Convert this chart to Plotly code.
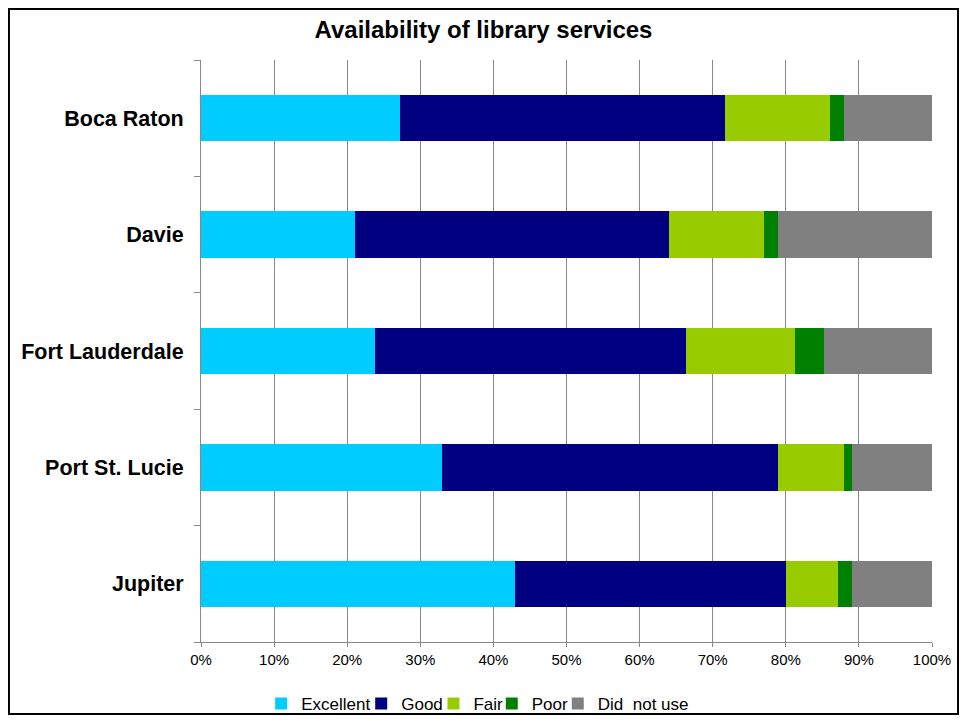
import plotly.graph_objects as go

cities = ["Boca Raton", "Davie", "Fort Lauderdale", "Port St. Lucie", "Jupiter"]
excellent = [27.2, 21.0, 23.8, 33.0, 43.0]
good = [44.5, 43.0, 42.5, 45.9, 37.0]
fair = [14.3, 13.0, 14.9, 9.1, 7.1]
poor = [1.9, 1.9, 4.0, 1.0, 1.9]
did_not_use = [12.1, 21.1, 14.8, 11.0, 11.0]

series = [
    ("Excellent", excellent, "#00CCFF"),
    ("Good", good, "#000080"),
    ("Fair", fair, "#99CC00"),
    ("Poor", poor, "#008000"),
    ("Did  not use", did_not_use, "#808080"),
]
# left edge of each legend entry (fraction of figure width)
legend_x = [0.2662, 0.3714, 0.4474, 0.5087, 0.5781]

font = "Arial, Liberation Sans, sans-serif"

fig = go.Figure()
legends = {}
for i, (name, vals, color) in enumerate(series):
    key = "legend" if i == 0 else "legend%d" % (i + 1)
    fig.add_trace(go.Bar(
        y=cities, x=[v / 100 for v in vals], name=name, orientation="h",
        marker=dict(color=color, line=dict(width=0)), legend=key,
    ))
    legends[key] = dict(orientation="h", xref="container", yref="container",
                        x=legend_x[i], xanchor="left", y=0.0156, yanchor="middle",
                        font=dict(size=17), itemwidth=30, bgcolor="rgba(0,0,0,0)")

fig.update_layout(
    barmode="stack",
    bargap=0.6,
    width=951, height=707,
    margin=dict(l=193, r=27, t=52, b=73),
    paper_bgcolor="white", plot_bgcolor="white",
    font=dict(family=font, color="black"),
    title=dict(text="<b>Availability of library services</b>", x=0.5, xanchor="center",
               y=0.9689, yanchor="middle", font=dict(size=24, family=font)),
    showlegend=True,
    **legends,
)
fig.update_xaxes(
    range=[0, 1], tickformat=".0%", dtick=0.1, showgrid=True, gridcolor="#888888",
    gridwidth=1, showline=True, linecolor="#888888", ticks="outside", ticklen=4,
    tickcolor="#888888", tickfont=dict(size=15), zeroline=False, automargin=False,
)
fig.update_yaxes(
    autorange="reversed", showline=True, linecolor="#888888", ticks="outside",
    tickson="boundaries", ticklen=6, tickcolor="#888888", showgrid=False,
    tickfont=dict(size=21.5, family=font), ticklabelstandoff=12, automargin=False,
    tickvals=cities, ticktext=["<b>%s</b>" % c for c in cities],
)

fig.add_shape(type="rect", xref="paper", yref="paper",
              x0=-0.2627, x1=1.0356, y0=-0.1237, y1=1.0876,
              line=dict(color="black", width=2), fillcolor="rgba(0,0,0,0)")

fig.write_html("out.html")
